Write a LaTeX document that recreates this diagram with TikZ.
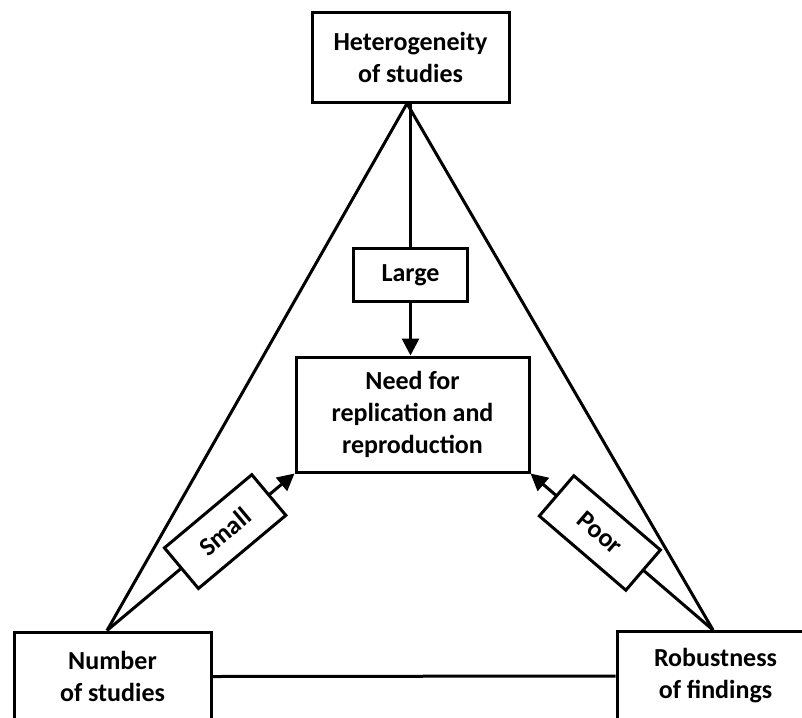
\documentclass[tikz,border=0pt]{standalone}
\usepackage{fontspec}
\setmainfont{Carlito}
\usetikzlibrary{arrows.meta}

\begin{document}
\begin{tikzpicture}[x=1pt, y=-1pt,
        font=\fontsize{26}{32}\selectfont\bfseries,
        box/.style={draw, line width=3pt, fill=white, align=center,
            minimum width=197pt, minimum height=89pt, inner sep=0pt},
        tag/.style={draw, line width=3pt, fill=white,
            minimum width=114pt, minimum height=53pt, inner sep=0pt},
        link/.style={line width=3pt},
        flow/.style={line width=3pt, -{Triangle[length=17pt, width=17pt]}}]
        % page frame
        \useasboundingbox (0,0) rectangle (802,717);
        \clip (0,0) rectangle (802,717);

        % boxes
        \node[box] (het) at (410.5,57.5) {Heterogeneity\\of studies};
        \node[box, minimum width=233pt, minimum height=115pt] (need) at (412.5,414.5)
            {Need for\\replication and\\reproduction};
        \node[box] (num) at (112.5,676.5) {Number\\of studies};
        \node[box] (rob) at (715.5,676) {Robustness\\of findings};

        % triangle
        \draw[link] ([xshift=-3.5pt]het.south) -- ([xshift=-5.5pt]num.north);
        \draw[link] ([xshift=-3.5pt]het.south) -- ([xshift=-2.5pt]rob.north);
        \draw[link] (num.east) -- (rob.west);

        % arrows into the centre
        \draw[flow] (het.south) -- node[tag, pos=0.68] (large) {Large} (het.south |- need.north);
        \draw[flow] ([xshift=-5.5pt]num.north) -- node[tag, sloped, pos=0.63] (small) {Small} (need.south west);
        \draw[flow] ([xshift=-2.5pt]rob.north) -- node[tag, sloped, pos=0.62] (poor) {Poor} (need.south east);

    \end{tikzpicture}
\end{document}
